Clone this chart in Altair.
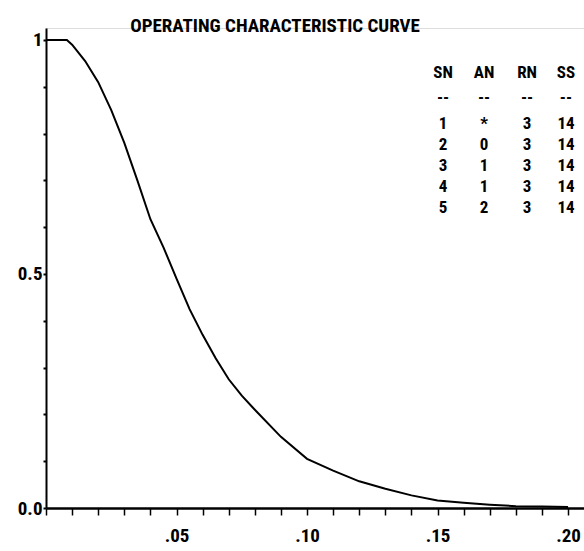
import altair as alt
import pandas as pd

# Operating characteristic curve (fraction defective vs. probability of acceptance)
p_values = [0.0, 0.005, 0.008, 0.01, 0.015, 0.02, 0.025, 0.03, 0.035, 0.04, 0.045,
            0.05, 0.055, 0.06, 0.065, 0.07, 0.075, 0.08, 0.09, 0.10, 0.11, 0.12,
            0.13, 0.14, 0.15, 0.16, 0.17, 0.18, 0.19, 0.20]
pa_values = [1.0, 1.0, 1.0, 0.99, 0.955, 0.91, 0.85, 0.78, 0.70, 0.617, 0.557,
             0.49, 0.425, 0.37, 0.32, 0.275, 0.24, 0.21, 0.152, 0.105, 0.08, 0.057,
             0.041, 0.027, 0.016, 0.011, 0.007, 0.004, 0.003, 0.002]

# Sampling plan table
headers = ["SN", "AN", "RN", "SS"]
sn = ["1", "2", "3", "4", "5"]
an = ["*", "0", "1", "1", "2"]
rn = ["3", "3", "3", "3", "3"]
ss = ["14", "14", "14", "14", "14"]

x_ticks = [round(k * 0.01, 2) for k in range(0, 21)]
y_ticks = [round(k * 0.1, 1) for k in range(0, 11)]

FONT = "Roboto Condensed, DejaVu Sans Condensed, Roboto, sans-serif"
FS = 19
TFS = 17

curve_df = pd.DataFrame({"p": p_values, "pa": pa_values})

# table layout (in data units of the chart's own scales)
col_x = [0.1521, 0.1678, 0.1843, 0.1992]
header_y = 0.9295
dash_y = 0.8761
row_y = [0.8205, 0.7756, 0.7308, 0.6859, 0.641]

rows = []
for ci, h in enumerate(headers):
    rows.append({"x": col_x[ci], "y": header_y, "t": h})
    rows.append({"x": col_x[ci], "y": dash_y, "t": "--"})
for ri in range(len(sn)):
    for ci, col in enumerate([sn, an, rn, ss]):
        rows.append({"x": col_x[ci], "y": row_y[ri], "t": col[ri]})
table_df = pd.DataFrame(rows)

xscale = alt.Scale(domain=[0, 0.2061], nice=False, zero=False)
yscale = alt.Scale(domain=[0, 1.0256], nice=False, zero=False)

x_axis = alt.Axis(
    values=x_ticks, title=None, grid=False,
    domainColor="black", domainWidth=2.5, tickColor="black", tickWidth=1.5, tickSize=7,
    labelExpr="(datum.value > 0 && round(datum.value * 100) % 5 == 0) ? ('.' + split(format(datum.value, '.2f'), '.')[1]) : ''",
    labelFont=FONT, labelFontSize=FS, labelFontWeight="bold", labelColor="black",
    labelPadding=11, labelFlush=False, labelOverlap=False,
)
y_axis = alt.Axis(
    values=y_ticks, title=None, grid=False,
    domainColor="black", domainWidth=2, tickColor="black", tickWidth=2, tickSize=3,
    labelExpr="datum.value == 1 ? '1' : (abs(datum.value - 0.5) < 0.001 ? '0.5' : (datum.value == 0 ? '0.0' : ''))",
    labelFont=FONT, labelFontSize=FS, labelFontWeight="bold", labelColor="black",
    labelPadding=1, labelFlush=False, labelOverlap=False,
)

curve = alt.Chart(curve_df).mark_line(color="black", strokeWidth=2).encode(
    x=alt.X("p:Q", scale=xscale, axis=x_axis),
    y=alt.Y("pa:Q", scale=yscale, axis=y_axis),
)

table = alt.Chart(table_df).mark_text(
    font=FONT, fontSize=TFS, fontWeight="bold", color="black",
    align="center", baseline="middle",
).encode(
    x=alt.X("x:Q", scale=xscale, axis=x_axis),
    y=alt.Y("y:Q", scale=yscale, axis=y_axis),
    text="t:N",
)

chart = alt.layer(curve, table).properties(
    width=538, height=480,
    title=alt.TitleParams(
        "OPERATING CHARACTERISTIC CURVE", font=FONT, fontSize=FS, fontWeight="bold",
        color="black", anchor="middle", frame="group", offset=0, dx=-40, dy=8,
    ),
    autosize=alt.AutoSizeParams(type="none"),
    padding={"left": 46, "top": 28, "right": 0, "bottom": 43},
).configure_view(stroke=None).configure(background="white")

chart.save("out.html", embed_options={"renderer": "svg", "actions": False})
